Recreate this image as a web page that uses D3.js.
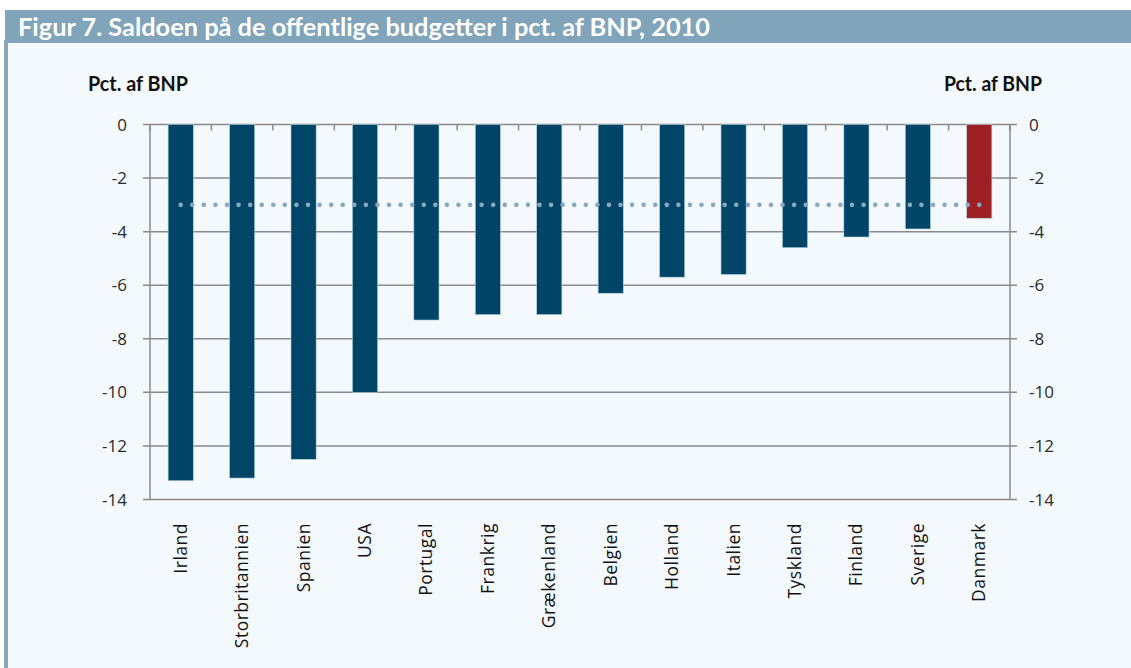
<!DOCTYPE html>
<html><head><meta charset="utf-8">
<script src="https://cdn.jsdelivr.net/npm/d3@7"></script>
<style>body{margin:0;background:#fff;} svg{display:block;}</style>
</head><body>
<svg id="c" width="1131" height="668"></svg>
<script>
const categories = ["Irland","Storbritannien","Spanien","USA","Portugal","Frankrig","Grækenland","Belgien","Holland","Italien","Tyskland","Finland","Sverige","Danmark"];
const values = [-13.3,-13.2,-12.5,-10.0,-7.3,-7.1,-7.1,-6.3,-5.7,-5.6,-4.6,-4.2,-3.9,-3.5];
const highlight = ["Danmark"];
const refValue = -3;
const yTicks = [0,-2,-4,-6,-8,-10,-12,-14];
const title = "Figur 7. Saldoen på de offentlige budgetter i pct. af BNP, 2010";
const axisTitle = "Pct. af BNP";

const svg = d3.select("#c");
const W = 1131, H = 668;
const font = "'Open Sans', sans-serif";
// background panel
svg.append("rect").attr("x",5).attr("y",10).attr("width",W-5).attr("height",H-10).attr("fill","#f4f9fd");
svg.append("rect").attr("x",5).attr("y",10).attr("width",W-5).attr("height",33).attr("fill","#80a4b9");
svg.append("rect").attr("x",4).attr("y",40).attr("width",4).attr("height",H-40).attr("fill","#87a9bd");
svg.append("text").attr("x",18).attr("y",36).attr("fill","#fff")
  .attr("font-family","Lato, sans-serif").attr("font-weight","bold").attr("font-size",24)
  .attr("textLength",692).attr("lengthAdjust","spacingAndGlyphs").text(title);

const L = 150, R = 1010;
const x = d3.scaleBand().domain(categories).range([L,R]).paddingInner(0.59).paddingOuter(0.295);
const y = d3.scaleLinear().domain([-14,0]).range([499.5,124.5]);
const grid = "#8a8a8a";

// gridlines
svg.append("g").selectAll("line").data(yTicks).join("line")
  .attr("x1",L-7).attr("x2",R+7).attr("y1",d=>y(d)).attr("y2",d=>y(d))
  .attr("stroke",grid).attr("stroke-width",1.5);
// axes lines
[L,R].forEach(xx=>svg.append("line").attr("x1",xx).attr("x2",xx).attr("y1",y(0)).attr("y2",y(-14)).attr("stroke",grid).attr("stroke-width",1.5));
// category ticks at top
const step = x.step();
const bounds = d3.range(categories.length+1).map(i=>L + i*step);
svg.append("g").selectAll("line").data(bounds).join("line")
  .attr("x1",d=>d).attr("x2",d=>d).attr("y1",y(0)).attr("y2",y(0)+6)
  .attr("stroke",grid).attr("stroke-width",1.5);

// bars
svg.append("g").selectAll("rect").data(categories).join("rect")
  .attr("x",d=>x(d)).attr("width",x.bandwidth())
  .attr("y",y(0)).attr("height",(d,i)=>y(values[i])-y(0))
  .attr("fill",d=>highlight.includes(d)?"#9c2026":"#004468")
  .attr("stroke","#bcd3e2").attr("stroke-width",0.6);

// reference dotted line
const cx0 = x(categories[0])+x.bandwidth()/2, cx1 = x(categories[categories.length-1])+x.bandwidth()/2;
const n = Math.round((cx1-cx0)/11.5);
svg.append("g").selectAll("circle").data(d3.range(n+1)).join("circle")
  .attr("cx",i=>cx0+i*(cx1-cx0)/n).attr("cy",y(refValue)).attr("r",2.3).attr("fill","#87a9bd");

// tick labels
const tl = svg.append("g").attr("font-family",font).attr("font-size",17).attr("fill","#2a2a2a");
tl.selectAll("text.l").data(yTicks).join("text").attr("class","l")
  .attr("x",127).attr("y",d=>y(d)+6).attr("text-anchor","end").text(d=>d);
tl.selectAll("text.r").data(yTicks).join("text").attr("class","r")
  .attr("x",1029).attr("y",d=>y(d)+6).attr("text-anchor","start").text(d=>d);

// axis titles
svg.append("text").attr("x",88).attr("y",91).attr("font-family","Lato, sans-serif").attr("font-weight","bold")
  .attr("font-size",20).attr("fill","#111").attr("textLength",100).attr("lengthAdjust","spacingAndGlyphs").text(axisTitle);
svg.append("text").attr("x",944).attr("y",91).attr("font-family","Lato, sans-serif").attr("font-weight","bold")
  .attr("font-size",20).attr("fill","#111").attr("textLength",98).attr("lengthAdjust","spacingAndGlyphs").text(axisTitle);

// category labels
svg.append("g").selectAll("text").data(categories).join("text")
  .attr("transform",d=>`translate(${x(d)+x.bandwidth()/2+6},523) rotate(-90)`)
  .attr("text-anchor","end").attr("font-family",font).attr("font-size",17.5).attr("letter-spacing",0.5).attr("fill","#111")
  .text(d=>d);
</script>
</body></html>
